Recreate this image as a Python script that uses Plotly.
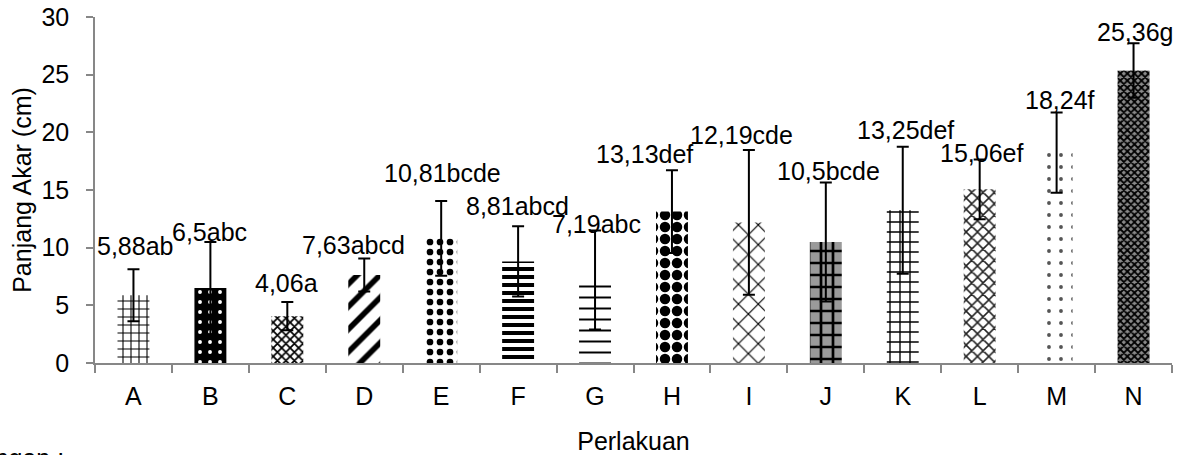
import plotly.graph_objects as go

categories = ["A", "B", "C", "D", "E", "F", "G", "H", "I", "J", "K", "L", "M", "N"]
values = [5.88, 6.5, 4.06, 7.63, 10.81, 8.81, 7.19, 13.13, 12.19, 10.5, 13.25, 15.06, 18.24, 25.36]
errors = [2.25, 4.0, 1.22, 1.43, 3.24, 3.05, 4.29, 3.59, 6.28, 5.16, 5.51, 2.59, 3.47, 2.37]
letters = ["ab", "abc", "a", "abcd", "bcde", "abcd", "abc", "def", "cde", "bcde", "def", "ef", "f", "g"]

# label placement (data units) and horizontal nudges (px)
label_y = [10.15, 11.36, 6.94, 10.23, 16.5, 13.6, 12.06, 18.13, 19.77, 16.68, 20.2, 18.2, 22.8, 28.7]
label_dx = [2, -1, -1, -11, 1, -1, 1, -27, -7, 3, 3, 2, 3, 1]

patterns = ["+", ".", "x", "/", ".", "-", "-", ".", "x", "+", "+", "x", ".", "x"]
pat_fg = ["black", "white", "black", "black", "black", "black", "black", "black", "black",
          "black", "black", "#222222", "#555555", "black"]
pat_bg = ["white", "black", "white", "white", "white", "white", "white", "white", "white",
          "#9a9a9a", "white", "white", "white", "#8a8a8a"]
pat_size = [8, 10, 6, 16, 10, 8, 11, 12, 14, 12, 10, 8, 12, 5]
pat_sol = [0.25, 0.12, 0.5, 0.35, 0.35, 0.5, 0.18, 0.6, 0.16, 0.4, 0.25, 0.35, 0.08, 0.6]

FONT = "Liberation Sans, Arial, sans-serif"
FS = 25

fig = go.Figure()
fig.add_trace(go.Bar(
    x=categories,
    y=values,
    marker=dict(
        color="white",
        line=dict(width=0),
        pattern=dict(shape=patterns, fgcolor=pat_fg, bgcolor=pat_bg,
                     size=pat_size, solidity=pat_sol, fillmode="replace"),
    ),
    error_y=dict(type="data", array=errors, visible=True, color="black",
                 thickness=2, width=6),
    showlegend=False,
))

for c, v, l, ly, dx in zip(categories, values, letters, label_y, label_dx):
    txt = f"{v:g}".replace(".", ",") + l
    fig.add_annotation(x=c, y=ly, text=txt, showarrow=False, xshift=dx,
                       font=dict(family=FONT, size=FS, color="black"),
                       xanchor="center", yanchor="middle")

fig.add_annotation(xref="paper", yref="paper", x=-0.027, y=-0.274,
                   text="Keterangan :", showarrow=False, xanchor="right",
                   yanchor="middle", font=dict(family=FONT, size=FS, color="black"))

fig.update_layout(
    width=1183, height=455,
    margin=dict(l=95, r=11, t=17, b=92),
    paper_bgcolor="white", plot_bgcolor="white",
    bargap=0.585,
    font=dict(family=FONT, size=FS, color="black"),
    xaxis=dict(
        range=[-0.5, 13.5], automargin=False,
        showline=True, linecolor="#878787", linewidth=1.5,
        ticks="outside", tickson="boundaries", ticklen=8, tickcolor="#878787", tickwidth=1.5,
        ticklabelstandoff=10, ticklabeloverflow="allow",
        showgrid=False, zeroline=False,
        title=dict(text="Perlakuan", standoff=25, font=dict(family=FONT, size=FS)),
        tickfont=dict(family=FONT, size=FS),
    ),
    yaxis=dict(
        range=[0, 30], dtick=5, automargin=False,
        showline=True, linecolor="#878787", linewidth=1.5,
        ticks="outside", ticklen=7, tickcolor="#878787", tickwidth=1.5,
        ticklabelstandoff=12, ticklabeloverflow="allow",
        showgrid=False, zeroline=False,
        title=dict(text="Panjang Akar (cm)", standoff=3, font=dict(family=FONT, size=FS)),
        tickfont=dict(family=FONT, size=FS),
    ),
)

fig.write_html("out.html", config={"displayModeBar": False},
               post_script="document.body.style.margin='0';")
